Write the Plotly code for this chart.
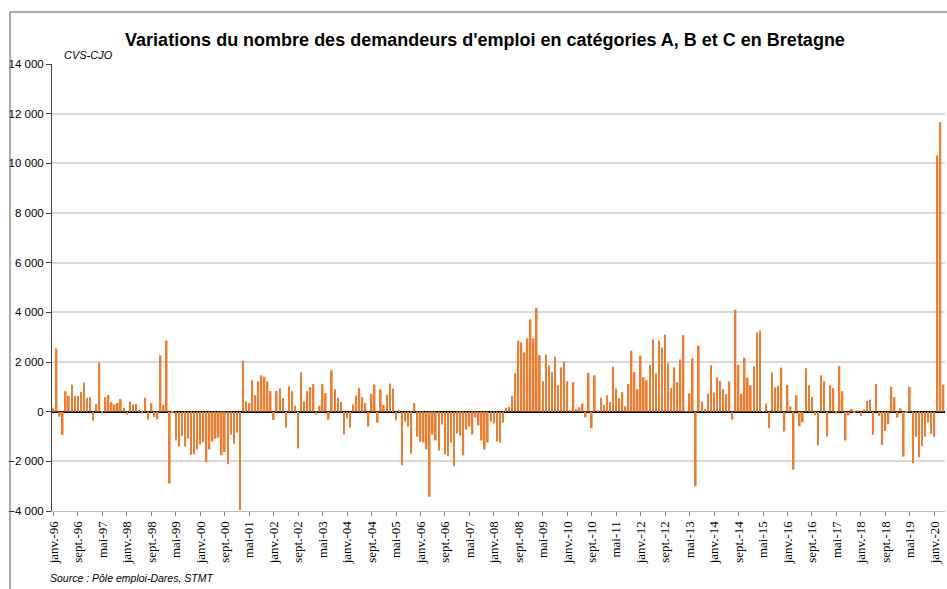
import plotly.graph_objects as go

# ---- data ----
START_YEAR = 1996
START_MONTH = 1
VALUES = [
    130, 2546, -200, -930, 826, 640, 1080, 626, 626, 800, 1173, 560, 586, -360, 306, 1973, -80, 586, 666, 386, 293, 346, 506, 160, -120, 400, 293,
    306, 80, -80, 560, -320, 346, -213, -306, 2266, 266, 2866, -2893, -53, -1160, -1400, -973, -1400, -1080, -1720, -1720, -1520, -1320, -1226, -2040, -1520, -1200,
    -1093, -1040, -1760, -1626, -2120, -920, -1293, -840, -3960, 2053, 413, 346, 1266, 666, 1213, 1466, 1413, 1213, 826, -333, 826, 933, 546, -640, 1026, 826,
    240, -1480, 1586, 413, 826, 986, 1106, -120, 240, 1106, 746, -320, 1666, 906, 560, 386, -920, -266, -640, 293, 653, 960, 586, 346, -600, 720,
    1093, -440, 906, 266, 680, 1133, 933, -360, 66, -2160, -400, -600, -1693, 346, -1000, -1213, -1240, -1520, -3426, -920, -1160, -1560, -520, -1720, -1800, -1240, -2200,
    -880, -960, -1760, -720, -600, -920, -240, -560, -1160, -1520, -1240, -400, -480, -1200, -1240, -440, 160, 200, 640, 1546, 2866, 2786, 2386, 2960, 3720, 2946,
    4173, 2280, 1226, 2306, 1866, 1586, 2213, 1066, 1786, 2026, 1226, 40, 1186, 106, 173, 333, -226, 1560, -666, 1466, 30, 560, 280, 666, 386, 1813,
    933, 546, 786, 213, 1120, 2453, 1600, 906, 2253, 1386, 1266, 1893, 2920, 1546, 2866, 2586, 3106, 1946, 946, 1786, 1186, 2106, 3080, 20, 733, 2146,
    -3000, 2653, 413, 106, 733, 1866, 773, 1373, 1240, 906, 706, 1213, -320, 4106, 1893, 720, 2173, 1373, 1066, 1826, 3186, 3266, 20, 333, -666, 1573, 973,
    1040, 1773, -800, 1080, 213, -2333, 666, -586, -426, 1746, 1066, 586, -146, -1360, 1466, 1226, -1000, 1066, 946, -80, 1840, 826, -1160, -146, 106,
    -40, 30, -173, 93, 426, 493, -933, 1120, -173, -1333, -773, -506, 1000, 586, -240, 133, -1813, -53, 1000, -2080, -1013, -1840, -1386, -1013, -426, -906, -1013, 10320, 11650, 1093,
]
MONTH_NAMES = ["janv.", "févr.", "mars", "avr.", "mai", "juin",
               "juil.", "août", "sept.", "oct.", "nov.", "déc."]
TICK_LABELS = [
    "janv.-96", "sept.-96", "mai-97", "janv.-98", "sept.-98", "mai-99",
    "janv.-00", "sept.-00", "mai-01", "janv.-02", "sept.-02", "mai-03",
    "janv.-04", "sept.-04", "mai-05", "janv.-06", "sept.-06", "mai-07",
    "janv.-08", "sept.-08", "mai-09", "janv.-10", "sept.-10", "mai-11",
    "janv.-12", "sept.-12", "mai-13", "janv.-14", "sept.-14", "mai-15",
    "janv.-16", "sept.-16", "mai-17", "janv.-18", "sept.-18", "mai-19",
    "janv.-20",
]
TICK_STEP = 8

categories = []
for i in range(len(VALUES)):
    m = (START_MONTH - 1 + i) % 12
    y = START_YEAR + (START_MONTH - 1 + i) // 12
    categories.append(f"{MONTH_NAMES[m]}-{y % 100:02d}")

W, H = 947, 589
L, R, T, B = 52, 2, 64, 78
pw, ph = W - L - R, H - T - B

def px(x):
    return (x - L) / pw

def py(y):
    return (H - B - y) / ph

fig = go.Figure()
fig.add_trace(go.Bar(
    x=categories, y=VALUES,
    marker=dict(color="#ED7D31", line=dict(width=0)),
    hoverinfo="x+y",
))

fig.update_layout(
    width=W, height=H,
    margin=dict(l=L, r=R, t=T, b=B, autoexpand=False),
    paper_bgcolor="white", plot_bgcolor="white",
    bargap=0.45,
    showlegend=False,
    separators=", ",
    font=dict(family="Liberation Sans, Arial, sans-serif", color="black"),
    title=dict(
        text="<b>Variations du nombre des demandeurs d'emploi en catégories A, B et C en Bretagne</b>",
        xref="container", x=485 / W, xanchor="center",
        yref="container", y=1 - 40 / H, yanchor="middle",
        font=dict(size=18, family="Liberation Sans, Arial, sans-serif", color="black"),
    ),
)

fig.update_xaxes(
    type="category",
    categoryorder="array", categoryarray=categories,
    range=[-0.5, len(VALUES) - 0.5],
    tickmode="array",
    tickvals=[categories[i * TICK_STEP] for i in range(len(TICK_LABELS))],
    ticktext=TICK_LABELS,
    tickangle=-90,
    tickfont=dict(family="Liberation Serif, Times New Roman, serif", size=13, color="black"),
    ticks="outside", ticklen=4, tickcolor="#808080",
    showline=True, linecolor="#bfbfbf", linewidth=1,
    showgrid=False, zeroline=False,
    automargin=False,
)
fig.update_yaxes(
    range=[-4000, 14000],
    tick0=-4000, dtick=2000,
    tickformat=",d",
    tickfont=dict(family="Liberation Sans, Arial, sans-serif", size=11.5, color="black"),
    ticks="outside", ticklen=5, tickcolor="#404040",
    showline=True, linecolor="#404040", linewidth=1,
    showgrid=True, gridcolor="#d9d9d9", gridwidth=1.5,
    zeroline=True, zerolinecolor="black", zerolinewidth=1.5,
    automargin=False,
)

fig.add_annotation(
    text="<i>CVS-CJO</i>", xref="paper", yref="paper",
    x=px(62), y=py(55), xanchor="left", yanchor="middle",
    showarrow=False, font=dict(size=11, family="Liberation Sans, Arial, sans-serif"),
)
fig.add_annotation(
    text="<i>Source : Pôle emploi-Dares, STMT</i>", xref="paper", yref="paper",
    x=px(48), y=py(578), xanchor="left", yanchor="middle",
    showarrow=False, font=dict(size=10.5, family="Liberation Sans, Arial, sans-serif"),
)
# chart frame
fig.add_shape(type="line", xref="paper", yref="paper",
              x0=px(10), x1=px(947), y0=py(12), y1=py(12),
              line=dict(color="#595959", width=1))
fig.add_shape(type="line", xref="paper", yref="paper",
              x0=px(10), x1=px(10), y0=py(12), y1=py(589),
              line=dict(color="#595959", width=1))

fig.write_html("out.html",
               config={"displayModeBar": False},
               post_script="document.body.style.margin='0';document.body.style.overflow='hidden';")
